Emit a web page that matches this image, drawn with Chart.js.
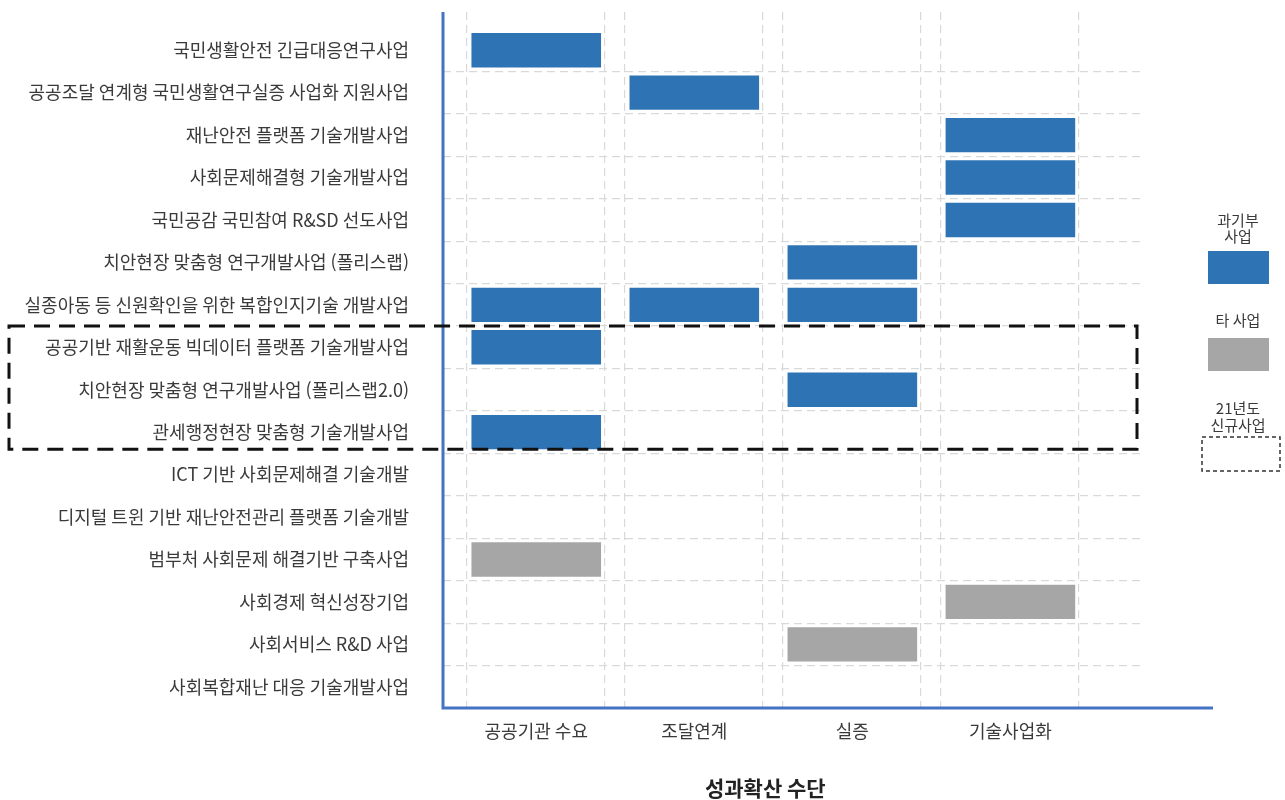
<!DOCTYPE html>
<html lang="ko">
<head>
<meta charset="utf-8">
<title>성과확산 수단</title>
<script src="https://cdn.jsdelivr.net/npm/chart.js@4/dist/chart.umd.min.js"></script>
<style>
  html, body { margin: 0; padding: 0; background: #fff; }
  canvas { display: block; }
</style>
</head>
<body>
<canvas id="chart" width="1285" height="800"></canvas>
<script>
// 사업 목록 (위에서 아래 순서)
var programs = [
  "국민생활안전 긴급대응연구사업",
  "공공조달 연계형 국민생활연구실증 사업화 지원사업",
  "재난안전 플랫폼 기술개발사업",
  "사회문제해결형 기술개발사업",
  "국민공감 국민참여 R&SD 선도사업",
  "치안현장 맞춤형 연구개발사업 (폴리스랩)",
  "실종아동 등 신원확인을 위한 복합인지기술 개발사업",
  "공공기반 재활운동 빅데이터 플랫폼 기술개발사업",
  "치안현장 맞춤형 연구개발사업 (폴리스랩2.0)",
  "관세행정현장 맞춤형 기술개발사업",
  "ICT 기반 사회문제해결 기술개발",
  "디지털 트윈 기반 재난안전관리 플랫폼 기술개발",
  "범부처 사회문제 해결기반 구축사업",
  "사회경제 혁신성장기업",
  "사회서비스 R&D 사업",
  "사회복합재난 대응 기술개발사업"
];

// 성과확산 수단
var means = ["공공기관 수요", "조달연계", "실증", "기술사업화"];

// [사업 번호, 수단 번호]
var msitBars = [[0, 0], [1, 1], [2, 3], [3, 3], [4, 3], [5, 2], [6, 0], [6, 1], [6, 2], [7, 0], [8, 2], [9, 0]];
var otherBars = [[12, 0], [13, 3], [14, 2]];

// 21년도 신규사업
var newPrograms = [7, 8, 9];

var BLUE = "#2e74b5", GRAY = "#a6a6a6", AXIS = "#4472c4", GRID = "#d9d9d9", TEXT = "#3a3a3a";
var FONT = "'Noto Sans CJK KR', 'Noto Sans', sans-serif";
var HALF = 0.41;

function toBars(list) {
  return list.map(function (p) { return { y: p[0], x: [p[1] - HALF, p[1] + HALF] }; });
}

// 열마다 좌우 점선 격자
var colEdges = [];
means.forEach(function (_, i) { colEdges.push(i - 0.44, i + 0.43); });
var rowEdges = programs.slice(1).map(function (_, i) { return i + 0.5; });

function noPad(s) { s.paddingTop = 0; s.paddingBottom = 0; }

var extras = {
  id: "extras",
  afterDraw: function (chart) {
    var ctx = chart.ctx, a = chart.chartArea, xs = chart.scales.x, ys = chart.scales.y;
    ctx.save();

    // 축선
    ctx.strokeStyle = AXIS; ctx.lineWidth = 3; ctx.setLineDash([]);
    ctx.beginPath();
    ctx.moveTo(a.left, a.top); ctx.lineTo(a.left, a.bottom); ctx.lineTo(chart.width - 72, a.bottom);
    ctx.stroke();

    // 신규사업 점선 박스
    var top = ys.getPixelForValue(newPrograms[0] - 0.5);
    var bot = ys.getPixelForValue(newPrograms[newPrograms.length - 1] + 0.5) - 4;
    ctx.strokeStyle = "#111"; ctx.lineWidth = 3; ctx.setLineDash([16, 9]);
    ctx.strokeRect(9, top, a.right - 12, bot - top);

    // x축 항목
    ctx.setLineDash([]);
    ctx.fillStyle = TEXT; ctx.textAlign = "center"; ctx.textBaseline = "middle";
    ctx.font = "18px " + FONT;
    means.forEach(function (m, i) { ctx.fillText(m, xs.getPixelForValue(i), a.bottom + 23); });
    ctx.font = "bold 21px " + FONT;
    ctx.fillStyle = "#222";
    ctx.fillText("성과확산 수단", xs.getPixelForValue((means.length - 1) / 2) - 8, 788);

    // 범례
    var cx = chart.width - 47;
    ctx.fillStyle = TEXT; ctx.font = "15px " + FONT;
    ctx.fillText("과기부", cx, 220); ctx.fillText("사업", cx, 236);
    ctx.fillStyle = BLUE; ctx.fillRect(cx - 30, 251, 61, 33);
    ctx.fillStyle = TEXT; ctx.fillText("타 사업", cx, 320);
    ctx.fillStyle = GRAY; ctx.fillRect(cx - 30, 338, 61, 33);
    ctx.fillStyle = TEXT;
    ctx.fillText("21년도", cx, 408); ctx.fillText("신규사업", cx, 425);
    ctx.strokeStyle = "#333"; ctx.lineWidth = 1.5; ctx.setLineDash([4, 3]);
    ctx.strokeRect(cx - 36, 437, 78, 34);
    ctx.restore();
  }
};

new Chart(document.getElementById("chart"), {
  type: "bar",
  data: {
    datasets: [
      { label: "과기부 사업", data: toBars(msitBars), backgroundColor: BLUE },
      { label: "타 사업", data: toBars(otherBars), backgroundColor: GRAY }
    ]
  },
  options: {
    indexAxis: "y",
    responsive: false,
    animation: false,
    events: [],
    layout: { padding: { top: 12, right: 145, bottom: 0, left: 0 } },
    datasets: { bar: { grouped: false, categoryPercentage: 1, barPercentage: 0.81 } },
    plugins: { legend: { display: false }, tooltip: { enabled: false } },
    scales: {
      x: {
        type: "linear", min: -0.59, max: 3.82,
        afterBuildTicks: function (s) { s.ticks = colEdges.map(function (v) { return { value: v }; }); },
        afterFit: function (s) { s.height = 92; s.paddingLeft = 0; s.paddingRight = 0; },
        ticks: { display: false },
        border: { display: false, dash: [8, 5] },
        grid: { color: GRID, lineWidth: 1.2, drawTicks: false }
      },
      y: {
        type: "linear", reverse: true, min: -0.9, max: 15.5, offset: false,
        afterBuildTicks: function (s) { s.ticks = rowEdges.map(function (v) { return { value: v }; }); },
        afterFit: function (s) { s.width = 0; noPad(s); },
        ticks: { display: false },
        border: { display: false, dash: [8, 5] },
        grid: { color: GRID, lineWidth: 1.2, drawTicks: false, offset: false }
      },
      y2: {
        type: "linear", position: "left", reverse: true, min: -0.9, max: 15.5, offset: false,
        afterBuildTicks: function (s) { s.ticks = programs.map(function (_, i) { return { value: i }; }); },
        afterFit: function (s) { s.width = 443; noPad(s); },
        ticks: {
          autoSkip: false, padding: 34, color: TEXT,
          font: { family: FONT, size: 18 },
          callback: function (v) { return programs[v]; }
        },
        border: { display: false },
        grid: { display: false, drawTicks: false, offset: false }
      }
    }
  },
  plugins: [extras]
});
</script>
</body>
</html>
